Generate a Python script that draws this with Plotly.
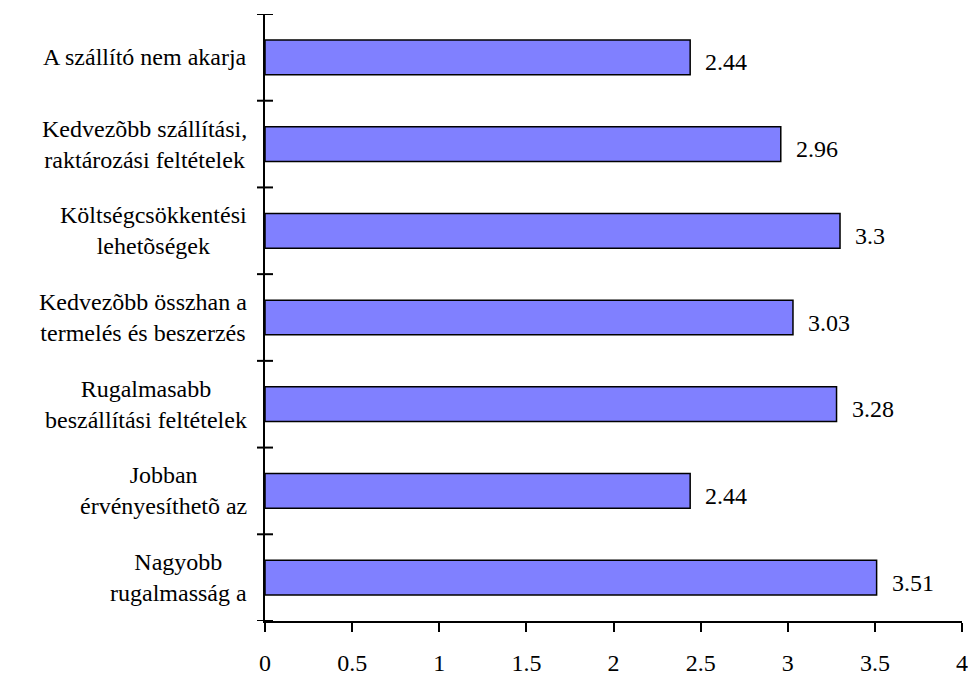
import plotly.graph_objects as go

# Categories listed top to bottom, with their mean scores
categories = [
    "A szállító nem akarja",
    "Kedvezõbb szállítási,<br>raktározási feltételek",
    "Költségcsökkentési<br>lehetõségek",
    "Kedvezõbb összhan a<br>termelés és beszerzés",
    "Rugalmasabb<br>beszállítási feltételek",
    "Jobban<br>érvényesíthetõ az",
    "Nagyobb<br>rugalmasság a",
]
values = [2.44, 2.96, 3.3, 3.03, 3.28, 2.44, 3.51]
value_labels = ["2.44", "2.96", "3.3", "3.03", "3.28", "2.44", "3.51"]
x_ticks = [0, 0.5, 1, 1.5, 2, 2.5, 3, 3.5, 4]
x_tick_text = ["0", "0.5", "1", "1.5", "2", "2.5", "3", "3.5", "4"]

FONT = "Liberation Serif"
FSIZE = 24
ypos = list(range(len(categories)))

fig = go.Figure(
    go.Bar(
        x=values,
        y=ypos,
        orientation="h",
        width=0.4,
        marker=dict(color="#8080FF", line=dict(color="black", width=1.5)),
        hoverinfo="skip",
    )
)

annotations = []
# value labels to the right of each bar
for y, v, t in zip(ypos, values, value_labels):
    annotations.append(dict(
        x=v, y=y, xref="x", yref="y", text=t, showarrow=False,
        xanchor="left", xshift=13, yshift=-5,
        font=dict(family=FONT, size=FSIZE, color="black"),
    ))
# centred multi-line category labels left of the axis
for y, c in zip(ypos, categories):
    annotations.append(dict(
        x=0, y=y, xref="paper", yref="y", text=c, showarrow=False,
        xanchor="right", align="center", xshift=-16,
        font=dict(family=FONT, size=FSIZE, color="black"),
    ))

# category boundary ticks crossing the vertical axis
shapes = []
plot_w = 968 - 265 - 6
for b in range(len(categories) + 1):
    shapes.append(dict(
        type="line", xref="paper", yref="y",
        x0=-8 / plot_w, x1=8 / plot_w, y0=b - 0.5, y1=b - 0.5,
        line=dict(color="black", width=2), layer="above",
    ))

fig.update_layout(
    width=968, height=675,
    margin=dict(l=265, r=6, t=14, b=54),
    paper_bgcolor="white", plot_bgcolor="white",
    showlegend=False,
    font=dict(family=FONT, size=FSIZE, color="black"),
    annotations=annotations,
    shapes=shapes,
    xaxis=dict(
        range=[0, 4], tickvals=x_ticks, ticktext=x_tick_text,
        showgrid=False, zeroline=False, automargin=False,
        showline=True, linecolor="black", linewidth=2,
        ticks="outside", ticklen=9, tickwidth=2, tickcolor="black",
        ticklabelstandoff=10,
        tickfont=dict(family=FONT, size=FSIZE, color="black"),
    ),
    yaxis=dict(
        range=[len(categories) - 0.5, -0.5], automargin=False,
        showticklabels=False, showgrid=False, zeroline=False,
        showline=True, linecolor="black", linewidth=2, ticks="",
    ),
)

fig.write_html("out.html")
